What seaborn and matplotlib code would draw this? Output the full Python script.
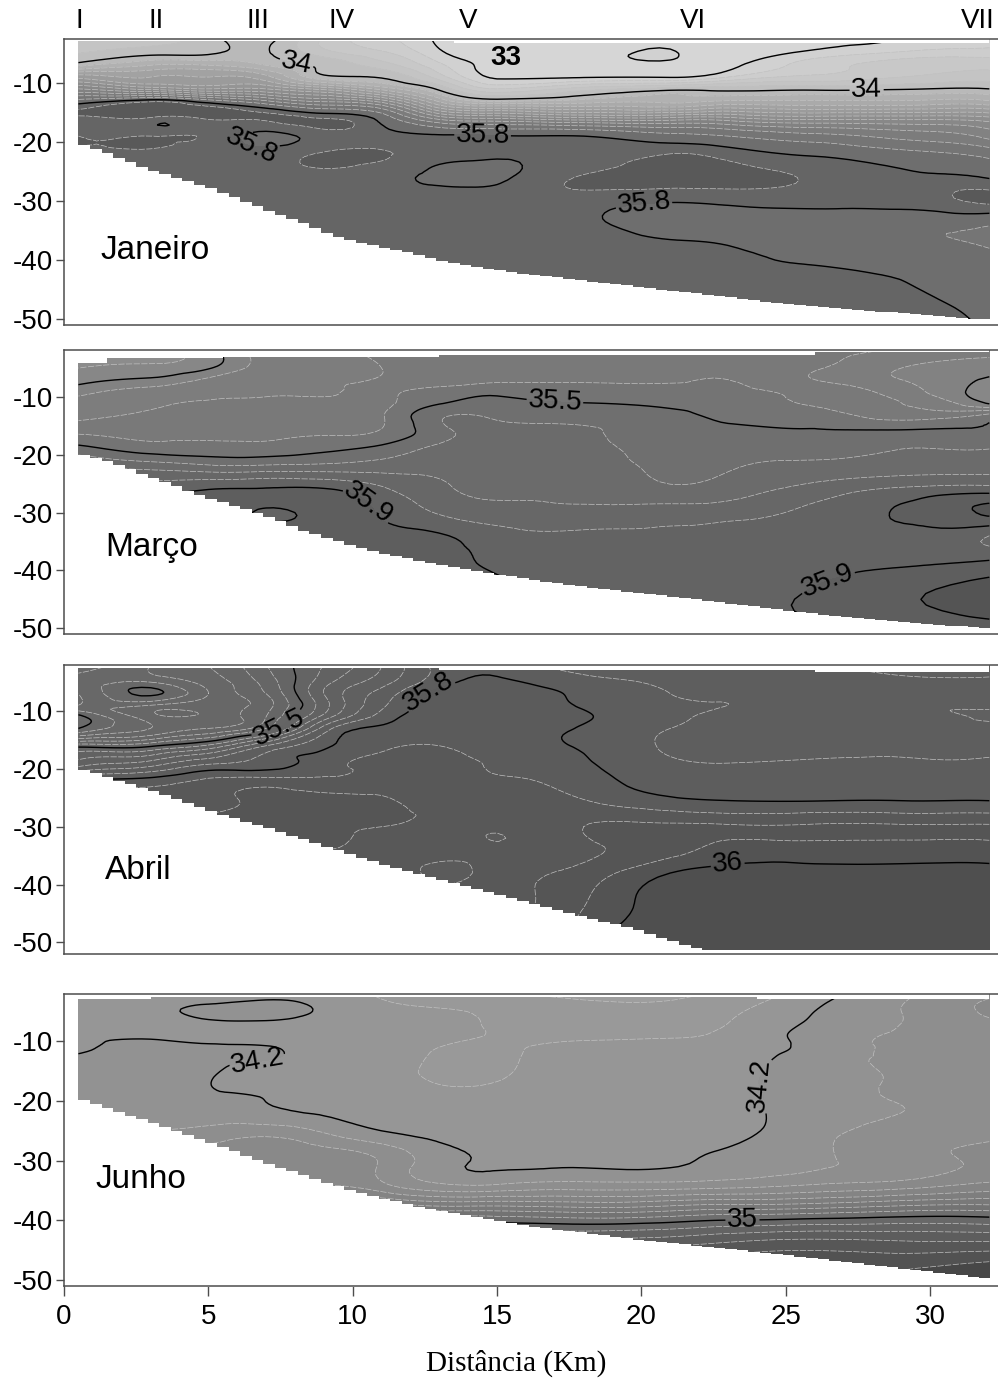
#!/usr/bin/env python3
import matplotlib
matplotlib.use("Agg")
import matplotlib.pyplot as plt
import matplotlib.tri as mtri
import numpy as np
import seaborn as sns

# grid the salinity was read on (km along the section, depth in m)
DIST = [0.5, 3, 5, 7, 9, 11, 13, 15, 18, 21, 23, 26, 29, 32.05]
DEPTH = [-2, -5, -7, -9, -11, -13, -16, -19, -22, -26, -30, -34, -38, -44, -52]
BOTTOM_DIST = [0.5] + list(range(1, 32)) + [32.05]

JAN_SAL = [
    [33.6, 33.7, 33.95, 34.12, 33.6, 33.25, 32.95, 32.8, 32.8, 32.8, 32.8, 32.9, 33.0, 33.15],
    [33.8, 33.95, 33.98, 34.02, 33.7, 33.45, 33.05, 32.85, 32.85, 33.02, 32.88, 33.08, 33.25, 33.3],
    [34.1, 34.3, 34.3, 34.15, 33.95, 33.7, 33.25, 32.92, 32.9, 32.9, 32.95, 33.3, 33.5, 33.55],
    [34.7, 34.6, 34.6, 34.5, 34.05, 33.98, 33.5, 32.97, 32.98, 32.98, 33.2, 33.45, 33.6, 33.7],
    [35.2, 35.0, 34.9, 34.9, 34.7, 34.4, 33.95, 33.4, 33.7, 33.9, 33.92, 33.95, 33.98, 34.0],
    [35.7, 35.85, 35.7, 35.5, 35.3, 35.1, 34.4, 34.1, 34.2, 34.25, 34.3, 34.3, 34.3, 34.3],
    [35.87, 35.88, 35.91, 35.92, 35.9, 35.75, 35.3, 35.2, 35.1, 35.1, 35.1, 35.0, 35.0, 34.95],
    [35.9, 35.9, 35.88, 35.77, 35.85, 35.84, 35.82, 35.81, 35.8, 35.7, 35.65, 35.55, 35.45, 35.3],
    [35.87, 35.87, 35.85, 35.85, 35.91, 35.91, 35.85, 35.83, 35.84, 35.9, 35.86, 35.78, 35.7, 35.6],
    [35.85, 35.85, 35.85, 35.85, 35.86, 35.83, 35.78, 35.78, 35.91, 35.95, 35.93, 35.89, 35.83, 35.79],
    [35.85, 35.85, 35.85, 35.85, 35.85, 35.85, 35.85, 35.85, 35.85, 35.81, 35.83, 35.84, 35.85, 35.92],
    [35.85, 35.85, 35.85, 35.85, 35.85, 35.85, 35.85, 35.85, 35.82, 35.75, 35.73, 35.73, 35.69, 35.66],
    [35.85, 35.85, 35.85, 35.85, 35.85, 35.85, 35.85, 35.85, 35.85, 35.83, 35.81, 35.74, 35.71, 35.65],
    [35.85, 35.85, 35.85, 35.85, 35.85, 35.85, 35.85, 35.85, 35.85, 35.85, 35.84, 35.84, 35.805, 35.74],
    [35.85, 35.85, 35.85, 35.85, 35.85, 35.85, 35.85, 35.85, 35.85, 35.85, 35.85, 35.86, 35.86, 35.79],
]
MAR_SAL = [
    [34.9, 35.0, 35.06, 35.28, 35.31, 35.32, 35.33, 35.34, 35.35, 35.36, 35.35, 35.33, 35.29, 35.25],
    [35.0, 35.02, 35.09, 35.25, 35.26, 35.3, 35.32, 35.35, 35.37, 35.38, 35.37, 35.31, 35.2, 35.13],
    [35.06, 35.12, 35.22, 35.28, 35.29, 35.31, 35.33, 35.38, 35.39, 35.39, 35.4, 35.3, 35.2, 35.09],
    [35.16, 35.24, 35.27, 35.29, 35.29, 35.36, 35.44, 35.47, 35.44, 35.43, 35.42, 35.37, 35.25, 35.05],
    [35.24, 35.29, 35.31, 35.32, 35.32, 35.37, 35.49, 35.53, 35.5, 35.47, 35.44, 35.39, 35.3, 35.08],
    [35.27, 35.31, 35.33, 35.34, 35.34, 35.39, 35.58, 35.58, 35.56, 35.53, 35.47, 35.44, 35.35, 35.41],
    [35.38, 35.37, 35.37, 35.37, 35.38, 35.41, 35.57, 35.62, 35.61, 35.55, 35.53, 35.51, 35.52, 35.52],
    [35.54, 35.45, 35.44, 35.44, 35.48, 35.53, 35.63, 35.65, 35.63, 35.56, 35.57, 35.57, 35.6, 35.6],
    [35.7, 35.66, 35.62, 35.62, 35.63, 35.65, 35.68, 35.66, 35.66, 35.57, 35.59, 35.62, 35.64, 35.65],
    [35.8, 35.85, 35.9, 35.91, 35.91, 35.82, 35.72, 35.68, 35.68, 35.62, 35.65, 35.74, 35.82, 35.85],
    [35.95, 35.95, 35.95, 35.89, 35.93, 35.89, 35.79, 35.74, 35.73, 35.75, 35.76, 35.83, 35.91, 36.02],
    [35.95, 35.95, 35.95, 35.95, 35.95, 35.93, 35.91, 35.84, 35.82, 35.82, 35.84, 35.86, 35.87, 35.8],
    [35.95, 35.95, 35.95, 35.95, 35.95, 35.95, 35.93, 35.88, 35.85, 35.85, 35.85, 35.86, 35.87, 35.89],
    [35.95, 35.95, 35.95, 35.95, 35.95, 35.95, 35.95, 35.93, 35.88, 35.87, 35.87, 35.91, 35.98, 36.05],
    [35.95, 35.95, 35.95, 35.95, 35.95, 35.95, 35.95, 35.95, 35.88, 35.87, 35.86, 35.85, 35.86, 35.88],
]
ABR_SAL = [
    [35.19, 35.3, 35.35, 35.45, 35.55, 35.65, 35.77, 35.78, 35.72, 35.7, 35.7, 35.7, 35.68, 35.68],
    [35.28, 35.25, 35.32, 35.42, 35.58, 35.68, 35.78, 35.81, 35.77, 35.74, 35.72, 35.72, 35.71, 35.71],
    [35.3, 35.19, 35.3, 35.4, 35.6, 35.72, 35.82, 35.83, 35.79, 35.75, 35.74, 35.72, 35.72, 35.72],
    [35.3, 35.3, 35.33, 35.38, 35.58, 35.74, 35.83, 35.84, 35.795, 35.76, 35.75, 35.74, 35.71, 35.71],
    [35.18, 35.33, 35.34, 35.4, 35.62, 35.77, 35.84, 35.84, 35.805, 35.76, 35.74, 35.73, 35.72, 35.69],
    [35.2, 35.3, 35.35, 35.45, 35.72, 35.81, 35.84, 35.84, 35.795, 35.75, 35.73, 35.72, 35.72, 35.72],
    [35.48, 35.49, 35.56, 35.7, 35.79, 35.84, 35.85, 35.82, 35.795, 35.74, 35.72, 35.72, 35.73, 35.73],
    [35.62, 35.67, 35.74, 35.77, 35.83, 35.86, 35.87, 35.84, 35.805, 35.76, 35.75, 35.76, 35.76, 35.76],
    [35.8, 35.82, 35.86, 35.87, 35.86, 35.87, 35.86, 35.86, 35.82, 35.78, 35.77, 35.77, 35.77, 35.77],
    [35.88, 35.88, 35.88, 35.92, 35.92, 35.91, 35.89, 35.9, 35.86, 35.82, 35.81, 35.81, 35.81, 35.81],
    [35.94, 35.94, 35.94, 35.94, 35.91, 35.9, 35.88, 35.86, 35.9, 35.91, 35.91, 35.91, 35.91, 35.91],
    [35.9, 35.9, 35.9, 35.9, 35.9, 35.89, 35.87, 35.86, 35.89, 35.93, 35.97, 35.97, 35.97, 35.97],
    [35.88, 35.88, 35.88, 35.88, 35.88, 35.88, 35.84, 35.87, 35.92, 36.0, 36.02, 36.02, 36.02, 36.02],
    [35.88, 35.88, 35.88, 35.88, 35.88, 35.88, 35.88, 35.88, 35.95, 36.03, 36.05, 36.05, 36.05, 36.05],
    [35.88, 35.88, 35.88, 35.88, 35.88, 35.88, 35.88, 35.88, 36.0, 36.06, 36.06, 36.06, 36.06, 36.06],
]
JUN_SAL = [
    [34.17, 34.17, 34.16, 34.17, 34.15, 34.08, 34.02, 34.0, 33.98, 33.98, 34.02, 34.15, 34.28, 34.38],
    [34.18, 34.19, 34.21, 34.22, 34.19, 34.13, 34.11, 34.08, 34.03, 34.03, 34.08, 34.2, 34.3, 34.42],
    [34.18, 34.18, 34.19, 34.19, 34.17, 34.14, 34.12, 34.09, 34.05, 34.06, 34.1, 34.22, 34.3, 34.38],
    [34.19, 34.19, 34.18, 34.17, 34.16, 34.14, 34.12, 34.095, 34.08, 34.09, 34.12, 34.24, 34.31, 34.36],
    [34.18, 34.22, 34.21, 34.205, 34.16, 34.14, 34.1, 34.09, 34.12, 34.13, 34.14, 34.23, 34.32, 34.36],
    [34.22, 34.24, 34.22, 34.205, 34.15, 34.13, 34.09, 34.09, 34.13, 34.14, 34.15, 34.25, 34.32, 34.37],
    [34.23, 34.24, 34.205, 34.16, 34.15, 34.13, 34.09, 34.095, 34.13, 34.14, 34.17, 34.25, 34.31, 34.37],
    [34.24, 34.24, 34.21, 34.195, 34.16, 34.14, 34.12, 34.12, 34.14, 34.15, 34.17, 34.25, 34.31, 34.36],
    [34.25, 34.25, 34.25, 34.22, 34.19, 34.15, 34.14, 34.13, 34.14, 34.15, 34.17, 34.24, 34.3, 34.36],
    [34.32, 34.33, 34.36, 34.4, 34.33, 34.24, 34.18, 34.15, 34.15, 34.16, 34.18, 34.27, 34.36, 34.39],
    [34.45, 34.45, 34.45, 34.45, 34.45, 34.39, 34.24, 34.19, 34.18, 34.185, 34.22, 34.28, 34.35, 34.42],
    [34.5, 34.5, 34.5, 34.5, 34.5, 34.42, 34.31, 34.3, 34.33, 34.33, 34.35, 34.4, 34.44, 34.52],
    [34.8, 34.8, 34.8, 34.8, 34.8, 34.8, 34.75, 34.75, 34.72, 34.75, 34.78, 34.8, 34.85, 34.86],
    [35.3, 35.3, 35.3, 35.3, 35.3, 35.3, 35.3, 35.25, 35.25, 35.28, 35.32, 35.35, 35.33, 35.33],
    [35.6, 35.6, 35.6, 35.6, 35.6, 35.6, 35.6, 35.6, 35.6, 35.6, 35.6, 35.52, 35.6, 35.75],
]

JAN_BOTTOM = [-20.5, -21.3, -23.3, -25, -26.5, -28, -29.9, -31.8, -33.6, -35.6, -37, -38, -39, -40.2, -41.1, -41.8,
              -42.5, -43, -43.6, -44.1, -44.7, -45.3, -45.8, -46.4, -47, -47.4, -47.9, -48.3, -48.7, -49, -49.5, -49.8, -50.2]
MAR_BOTTOM = [-20, -20.6, -22.3, -24.2, -26, -27.8, -29.3, -30.9, -33, -34.5, -36, -37.2, -38.2, -39.2, -40, -40.8,
              -41.6, -42.3, -42.9, -43.5, -44, -44.6, -45.2, -45.8, -46.4, -47, -47.6, -48.1, -48.6, -49, -49.4, -49.7, -50]
ABR_BOTTOM = [-20.2, -20.9, -22.5, -24, -25.8, -27.5, -29, -30.4, -32, -33.6, -35.2, -36.7, -38, -39.3, -40.7, -42,
              -43.3, -44.5, -45.8, -47, -48.3, -50, -51.3, -51.3, -51.3, -51.3, -51.3, -51.3, -51.3, -51.3, -51.3, -51.3, -51.3]
JUN_BOTTOM = [-19.9, -20.6, -22.3, -23.8, -25.5, -27.2, -29, -30.7, -32.3, -33.9, -35.3, -36.5, -37.6, -38.5, -39.3, -40.2,
              -41, -41.6, -42.2, -42.8, -43.4, -43.9, -44.4, -44.9, -45.4, -45.9, -46.5, -47, -47.6, -48.2, -48.7, -49.3, -49.9]

JAN_LEVELS = [32, 33, 33.2, 33.4, 33.6, 33.8, 34, 34.15, 34.3, 34.45, 34.6, 34.75, 34.9, 35.05, 35.2, 35.35, 35.5, 35.65,
              35.8, 35.9, 37]
MAR_LEVELS = [34, 34.9, 35, 35.1, 35.2, 35.3, 35.4, 35.5, 35.6, 35.7, 35.8, 35.9, 36, 37]
ABR_LEVELS = [35, 35.2, 35.25, 35.3, 35.35, 35.4, 35.45, 35.5, 35.55, 35.6, 35.65, 35.7, 35.75, 35.8, 35.85, 35.9, 35.95, 36, 37]
JUN_LEVELS = [33, 34, 34.1, 34.2, 34.3, 34.4, 34.5, 34.6, 34.7, 34.8, 34.9, 35, 35.1, 35.2, 35.3, 35.4, 35.5, 37]

JAN_MAJOR = [33, 34, 35.8]
MAR_MAJOR = [35.1, 35.5, 35.9, 36]
ABR_MAJOR = [35.2, 35.5, 35.8, 36]
JUN_MAJOR = [34.2, 35]

# grey of the fill at a few salinities, each panel has its own ramp
JAN_RAMP = ([32, 33, 34, 34.6, 35.7, 35.85, 35.95, 37], [0.85, 0.83, 0.74, 0.62, 0.44, 0.395, 0.365, 0.33])
MAR_RAMP = ([34.9, 35.1, 35.5, 35.9, 36.1], [0.56, 0.52, 0.445, 0.38, 0.33])
ABR_RAMP = ([35.1, 35.5, 35.8, 36, 36.1], [0.415, 0.395, 0.36, 0.32, 0.31])
JUN_RAMP = ([33.9, 34.2, 34.4, 35, 35.5, 35.8], [0.62, 0.58, 0.55, 0.42, 0.31, 0.28])

JAN_LABELS = [(8, -8), (27.8, -11.3), (6.5, -20.5), (14.5, -18.3), (20.1, -31.5)]
MAR_LABELS = [(17, -11), (10.6, -28), (26.4, -41)]
ABR_LABELS = [(7.2, -10.2), (12.7, -7.6), (23, -37)]
JUN_LABELS = [(6.7, -13.2), (24.3, -16.9), (23.5, -40.8)]

JAN_TOP = ([0.5, 13.5, 32.05], [-2.9, -3.3, -3.3])
MAR_TOP = ([0.5, 1.5, 5.5, 13, 26, 32.05], [-4.1, -3.2, -3.1, -2.7, -2.2, -2.2])
ABR_TOP = ([0.5, 13, 26, 32.05], [-2.6, -2.9, -3.3, -3.3])
JUN_TOP = ([0.5, 3, 24, 32.05], [-3, -2.6, -3, -3])

STATIONS = ["I", "II", "III", "IV", "V", "VI", "VII"]
STATION_KM = [0.52, 3.2, 6.7, 9.6, 14, 21.8, 31.65]
Y_TICKS = [-10, -20, -30, -40, -50]
X_TICKS = [0, 5, 10, 15, 20, 25, 30]

W, H = 998, 1381
XMAX = 32.35
FONT = "Liberation Sans"


def draw_panel(box, ylim, sal, bottom, top, levels, major, ramp, labels, month, month_pos):
    ax = fig.add_axes([64 / W, 1 - box[1] / H, (W - 64) / W, (box[1] - box[0]) / H])

    # smooth contours from the read grid, same idea as the gridding in the original
    xx, zz = np.meshgrid(DIST, DEPTH)
    tri = mtri.Triangulation(xx.ravel(), zz.ravel())
    fine, sal_fine = mtri.UniformTriRefiner(tri).refine_field(np.array(sal).ravel(), subdiv=3)

    mids = (np.array(levels[:-1]) + np.array(levels[1:])) / 2
    greys = np.interp(mids, ramp[0], ramp[1])
    ax.tricontourf(fine, sal_fine, levels=levels, colors=[str(g) for g in greys], zorder=1, extend="neither")

    minor = [lv for lv in levels[1:-1] if lv not in major]
    ax.tricontour(fine, sal_fine, levels=minor, colors="0.76", linewidths=0.5,
                  linestyles=[(0, (9, 2))], zorder=2)
    cs = ax.tricontour(fine, sal_fine, levels=major, colors="black", linewidths=1.0,
                       linestyles="solid", zorder=2)
    ax.clabel(cs, manual=labels, inline=True, inline_spacing=2, fontsize=20,
              fmt={lv: f"{lv:g}" for lv in major})

    # blank the sea bed with a stepped edge, under the spines
    edge = np.arange(0.5, 32.4, 0.4)
    ax.fill_between(edge, np.interp(edge, BOTTOM_DIST, bottom), ylim[0] - 1, step="post",
                    color="white", lw=0, zorder=2.2)
    ax.fill_between(top[0], top[1], ylim[1] + 1, step="post", color="white", lw=0, zorder=2.2)

    ax.set_xlim(0, XMAX)
    ax.set_ylim(*ylim)
    ax.set_yticks(Y_TICKS)
    ax.set_xticks(X_TICKS)
    ax.tick_params(axis="y", labelsize=20, length=6, width=1, color="0.3", pad=2)
    ax.tick_params(axis="x", labelsize=20, length=7, width=1, color="0.3", pad=6)
    ax.set_xlabel("")
    ax.set_ylabel("")
    sns.despine(ax=ax, top=False, right=True)
    for name in ["left", "top", "bottom"]:
        ax.spines[name].set_color("0.3")
        ax.spines[name].set_linewidth(1.1)
    ax.text(month_pos[0], month_pos[1], month, fontsize=24, va="center", ha="left", zorder=5)
    return ax


sns.set_style("ticks")
plt.rcParams["font.family"] = [FONT, "DejaVu Sans"]
plt.rcParams["axes.unicode_minus"] = False
plt.rcParams["text.color"] = "black"
plt.rcParams["xtick.color"] = "black"
plt.rcParams["ytick.color"] = "black"
fig = plt.figure(figsize=(W / 100, H / 100), dpi=100)

ax1 = draw_panel((39, 325), (-51.0, -2.55), JAN_SAL, JAN_BOTTOM, JAN_TOP, JAN_LEVELS, JAN_MAJOR, JAN_RAMP,
                 JAN_LABELS, "Janeiro", (1.25, -38.4))
ax2 = draw_panel((350, 634), (-51.0, -1.87), MAR_SAL, MAR_BOTTOM, MAR_TOP, MAR_LEVELS, MAR_MAJOR, MAR_RAMP,
                 MAR_LABELS, "Março", (1.42, -36))
ax3 = draw_panel((665, 954), (-52.0, -2.04), ABR_SAL, ABR_BOTTOM, ABR_TOP, ABR_LEVELS, ABR_MAJOR, ABR_RAMP,
                 ABR_LABELS, "Abril", (1.42, -37.5))
ax4 = draw_panel((994, 1286), (-51.0, -2.1), JUN_SAL, JUN_BOTTOM, JUN_TOP, JUN_LEVELS, JUN_MAJOR, JUN_RAMP,
                 JUN_LABELS, "Junho", (1.1, -33.1))

for ax in [ax1, ax2, ax3]:
    ax.tick_params(axis="x", bottom=False, labelbottom=False)

ax1.text(15.3, -5.8, "33", fontsize=20, fontweight="bold", ha="center", va="center", zorder=5)
for km, name in zip(STATION_KM, STATIONS):
    ax1.text(km, 0.5, name, fontsize=20, ha="center", va="center", clip_on=False)

fig.text(516 / W, 1 - 1363 / H, "Distância (Km)", fontsize=21, ha="center", va="center",
         family=["Liberation Serif", "DejaVu Serif"])

plt.savefig("out.png", dpi=100)
plt.close()
